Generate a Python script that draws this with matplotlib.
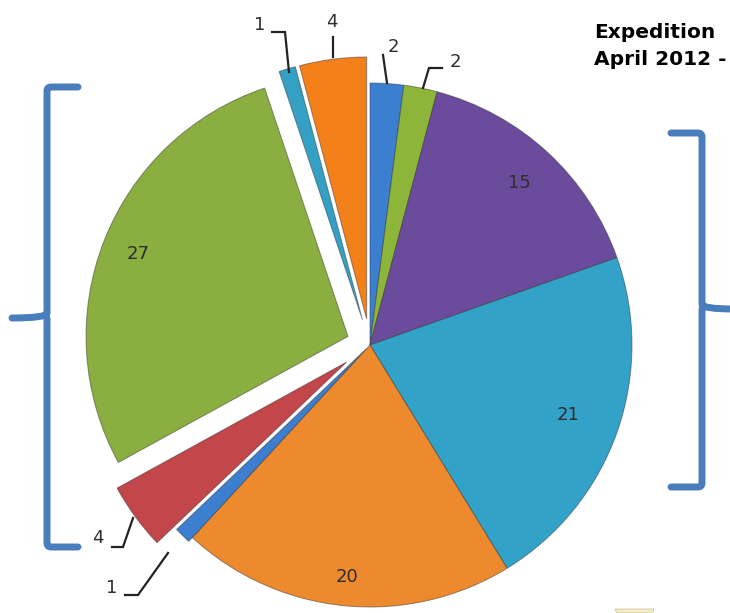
import numpy as np
import matplotlib
matplotlib.use('Agg')
import matplotlib.pyplot as plt
from matplotlib.path import Path
from matplotlib.patches import PathPatch

# slice values, clockwise from 12 o'clock
values = [2, 2, 15, 21, 20, 1, 4, 27, 1, 4]
colors = ['#3c7ed0', '#8cb53a', '#6b4b9b', '#33a2c8', '#ee8a2e',
          '#3c7ed0', '#c2464a', '#8aae40', '#34a0c4', '#f4801a']
explode = [0, 0, 0, 0, 0, 0.02, 0.11, 0.09, 0.1, 0.1]

title_lines = ['Expedition', 'April 2012 -']

# label placement for the big slices (fraction of radius along the mid angle)
inside_frac = {2: 0.84, 3: 0.80, 4: 0.89, 7: 0.86}

# leader lines for the small slices: text position and polyline (pixels, y down)
leaders = {
    0: ((393, 47), [(383, 55), (387, 83)]),
    1: ((455, 62), [(442, 68), (429, 68), (423, 88)]),
    5: ((112, 588), [(125, 595), (138, 595), (168, 553)]),
    6: ((98, 538), [(112, 547), (123, 547), (133, 518)]),
    8: ((260, 25), [(272, 32), (285, 32), (289, 72)]),
    9: ((332, 22), [(333, 37), (333, 57)]),
}

W, H = 730, 613


def P(x, y):
    # pixel coordinates (origin top-left) to data coordinates
    return x, H - y


def brace(ax, x, top, mid, bot, arm, tip, color):
    # curly bracket: vertical spine at x, arms pointing to x+arm, point at x+tip
    s = np.sign(arm)
    c = 4
    verts = [P(x + arm, top), P(x + s * c, top), P(x, top), P(x, top + c),
             P(x, mid - 5), P(x, mid), P(x + tip, mid),
             P(x, mid), P(x, mid + 5),
             P(x, bot - c), P(x, bot), P(x + s * c, bot), P(x + arm, bot)]
    codes = [Path.MOVETO, Path.LINETO, Path.CURVE3, Path.CURVE3,
             Path.LINETO, Path.CURVE3, Path.CURVE3,
             Path.MOVETO, Path.CURVE3,
             Path.LINETO, Path.CURVE3, Path.CURVE3, Path.LINETO]
    ax.add_patch(PathPatch(Path(verts, codes), fill=False, ec=color, lw=5,
                           capstyle='round', joinstyle='round'))


fig = plt.figure(figsize=(W / 100, H / 100), dpi=100)
ax = fig.add_axes([0, 0, 1, 1])

cx, cy = P(370, 345)
R = 262
wedges, _ = ax.pie(values, colors=colors, explode=[e * R for e in explode],
                   radius=R, center=(cx, cy), startangle=90, counterclock=False,
                   wedgeprops=dict(edgecolor=(0.2, 0.2, 0.2, 0.5), linewidth=0.7),
                   frame=True)

ax.set_xlim(0, W)
ax.set_ylim(0, H)
ax.axis('off')

lab_font = dict(fontsize=13, color='#2e2e2e', family='DejaVu Sans',
                ha='center', va='center')

for i, w in enumerate(wedges):
    if i in inside_frac:
        mid = np.deg2rad((w.theta1 + w.theta2) / 2)
        x0, y0 = w.center
        r = inside_frac[i] * w.r
        ax.text(x0 + r * np.cos(mid), y0 + r * np.sin(mid), str(values[i]), **lab_font)
    elif i in leaders:
        (tx, ty), pts = leaders[i]
        ax.text(*P(tx, ty), str(values[i]), **lab_font)
        xs, ys = zip(*[P(*p) for p in pts])
        ax.plot(xs, ys, color='#222222', lw=1.6, solid_joinstyle='miter')

# fragment of the neighbouring chart at the bottom edge
ax.fill([617, 652, 654, 615], [0, 0, 4, 4], color='#f3ecc4', ec='#c8c09a', lw=0.5)

# curly brackets grouping the slices
bc = '#4a7dbb'
brace(ax, 47, 87, 318, 547, 31, -35, bc)
brace(ax, 702, 133, 309, 487, -31, 32, bc)

# title
for k, line in enumerate(title_lines):
    ax.text(*P(594, 38 + 27 * k), line, fontsize=14.5, fontweight='bold',
            family='DejaVu Sans', color='black', ha='left', va='baseline')

fig.savefig('out.png', dpi=100)
